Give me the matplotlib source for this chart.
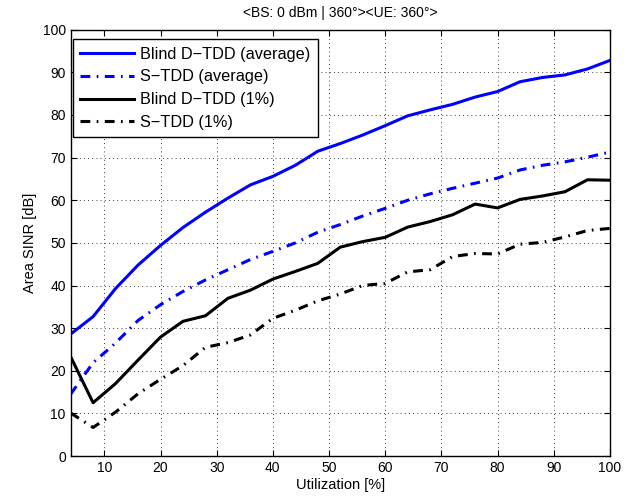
import matplotlib
matplotlib.use("Agg")
import matplotlib.pyplot as plt

plt.rcParams['font.family'] = ['Liberation Sans', 'DejaVu Sans']

utilization = [4, 8, 12, 16, 20, 24, 28, 32, 36, 40, 44, 48, 52, 56, 60, 64, 68, 72, 76, 80, 84, 88, 92, 96, 100]

blind_avg = [28.6, 32.7, 39.3, 44.8, 49.4, 53.6, 57.2, 60.5, 63.6, 65.6, 68.2, 71.5, 73.3, 75.3, 77.5, 79.8, 81.2, 82.5, 84.2, 85.5, 87.8, 88.8, 89.4, 90.8, 92.8]
stdd_avg = [14.5, 21.9, 26.5, 31.8, 35.5, 38.6, 41.3, 43.7, 46.1, 48.0, 50.0, 52.5, 54.3, 56.3, 58.1, 60.0, 61.5, 62.8, 64.0, 65.2, 67.1, 68.2, 69.0, 70.1, 71.3]
blind_1 = [23.3, 12.5, 17.0, 22.5, 27.9, 31.6, 32.9, 37.0, 38.9, 41.5, 43.3, 45.2, 49.0, 50.3, 51.3, 53.7, 55.0, 56.6, 59.1, 58.2, 60.2, 61.0, 62.0, 64.8, 64.7]
stdd_1 = [10.1, 6.7, 10.3, 14.6, 18.0, 21.2, 25.5, 26.6, 28.4, 32.3, 34.2, 36.4, 38.0, 40.0, 40.5, 43.2, 43.7, 46.8, 47.5, 47.4, 49.7, 50.1, 51.4, 52.9, 53.4]

series_labels = ['Blind D\u2212TDD (average)', 'S\u2212TDD (average)', 'Blind D\u2212TDD (1%)', 'S\u2212TDD (1%)']
title_text = '<BS: 0 dBm | 360\u00b0><UE: 360\u00b0>'

fig = plt.figure(figsize=(6.38, 5.04), dpi=100)
ax = fig.add_axes([0.1107, 0.0952, 0.8453, 0.8458])

dd = (3.2, 2.1, 0.55, 2.1)
ax.plot(utilization, blind_avg, color='#0000ff', lw=2.2, label=series_labels[0])
ax.plot(utilization, stdd_avg, color='#0000ff', lw=2.2, dashes=dd, label=series_labels[1])
ax.plot(utilization, blind_1, color='black', lw=2.2, label=series_labels[2])
ax.plot(utilization, stdd_1, color='black', lw=2.2, dashes=dd, label=series_labels[3])

ax.set_xlim(4, 100)
ax.set_ylim(0, 100)
ax.set_xticks(range(10, 101, 10))
ax.set_yticks(range(0, 101, 10))
ax.grid(True, color='black', linestyle=(0, (1, 4)), linewidth=0.6)
ax.tick_params(direction='in', top=True, right=True, labelsize=10, length=4)
for s in ax.spines.values():
    s.set_linewidth(1.0)
ax.set_xlabel('Utilization [%]', fontsize=10.5, labelpad=2)
ax.set_ylabel('Area SINR [dB]', fontsize=10.5, labelpad=4)
ax.set_title(title_text, fontsize=10, pad=9)

leg = ax.legend(loc='upper left', bbox_to_anchor=(0.0045, 0.9775), fontsize=11.7, frameon=True,
                fancybox=False, edgecolor='black', framealpha=1, borderaxespad=0,
                handlelength=3.3, handletextpad=0.4, labelspacing=0.48, borderpad=0.45)
leg.get_frame().set_linewidth(1.0)

fig.savefig('out.png', dpi=100)
